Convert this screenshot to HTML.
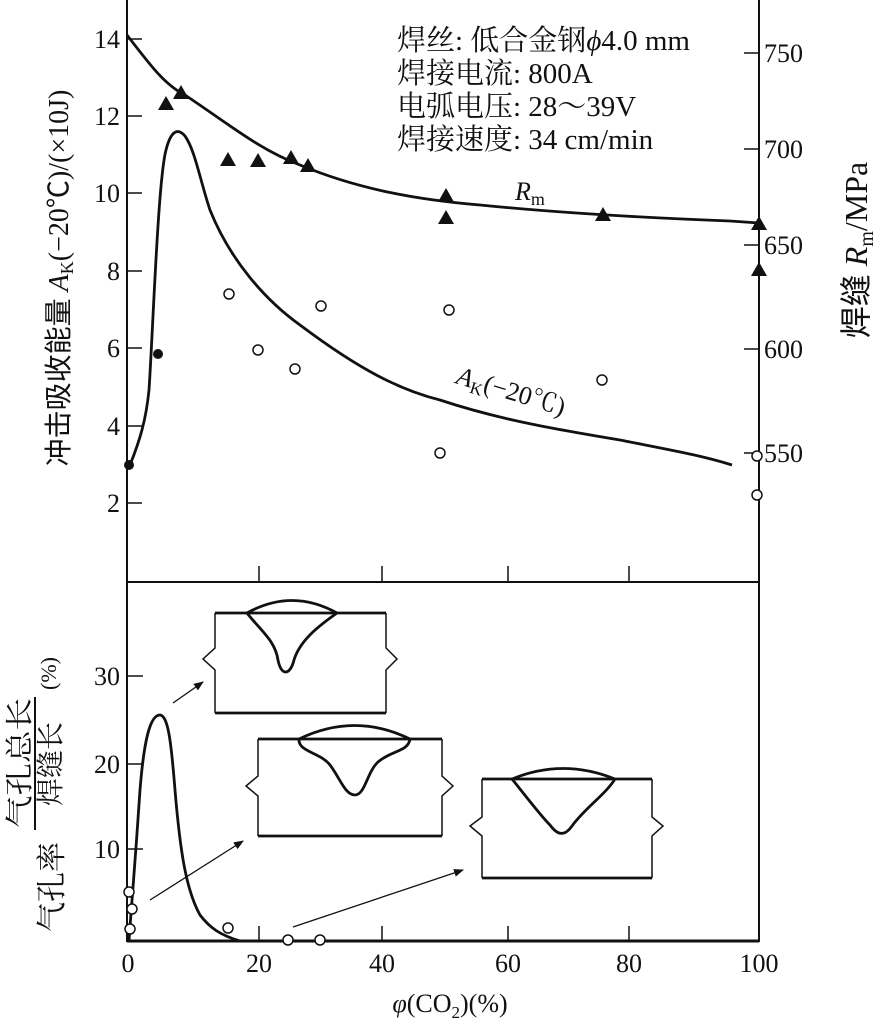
<!DOCTYPE html>
<html><head><meta charset="utf-8"><style>
html,body{margin:0;padding:0;background:#fff;}
svg{display:block;}
text{font-family:"Liberation Serif","Noto Serif CJK SC",serif;fill:#111;}
.cj{font-family:"Liberation Serif","Noto Sans CJK SC",sans-serif;}
</style></head><body>
<svg width="874" height="1027" viewBox="0 0 874 1027" xmlns="http://www.w3.org/2000/svg">
<defs><marker id="ar" markerWidth="10" markerHeight="8" refX="9" refY="4" orient="auto" markerUnits="userSpaceOnUse"><path d="M0,0 L10,4 L0,8 Z" fill="#111"/></marker></defs>
<g stroke="#111" fill="none" stroke-width="2">
<line x1="127" y1="0" x2="127" y2="942"/>
<line x1="759" y1="0" x2="759" y2="942"/>
<line x1="127" y1="582" x2="759" y2="582"/>
<line x1="127" y1="941" x2="759" y2="941" stroke-width="3"/>
</g>
<g stroke="#111" stroke-width="1.5">
<line x1="127" y1="39" x2="142" y2="39"/><line x1="127" y1="116" x2="142" y2="116"/><line x1="127" y1="193" x2="142" y2="193"/><line x1="127" y1="271" x2="142" y2="271"/><line x1="127" y1="348" x2="142" y2="348"/><line x1="127" y1="426" x2="142" y2="426"/><line x1="127" y1="503" x2="142" y2="503"/>
<line x1="744" y1="53" x2="759" y2="53"/><line x1="744" y1="149" x2="759" y2="149"/><line x1="744" y1="245" x2="759" y2="245"/><line x1="744" y1="349" x2="759" y2="349"/><line x1="744" y1="453" x2="759" y2="453"/>
<line x1="259" y1="566" x2="259" y2="582"/><line x1="382" y1="566" x2="382" y2="582"/><line x1="508" y1="566" x2="508" y2="582"/><line x1="629" y1="566" x2="629" y2="582"/>
<line x1="259" y1="926" x2="259" y2="941"/><line x1="382" y1="926" x2="382" y2="941"/><line x1="508" y1="926" x2="508" y2="941"/><line x1="629" y1="926" x2="629" y2="941"/>
<line x1="127" y1="676" x2="143" y2="676"/><line x1="127" y1="764" x2="143" y2="764"/><line x1="127" y1="849" x2="143" y2="849"/>
</g>
<g font-size="26" text-anchor="end">
<text x="120" y="48">14</text><text x="120" y="125">12</text><text x="120" y="202">10</text><text x="120" y="280">8</text><text x="120" y="357">6</text><text x="120" y="435">4</text><text x="120" y="512">2</text>
<text x="120" y="685">30</text><text x="120" y="773">20</text><text x="120" y="858">10</text>
</g>
<g font-size="26">
<text x="764" y="62">750</text><text x="764" y="158">700</text><text x="764" y="254">650</text><text x="764" y="358">600</text><text x="764" y="462">550</text>
</g>
<g font-size="26" text-anchor="middle">
<text x="128" y="972">0</text><text x="259" y="972">20</text><text x="382" y="972">40</text><text x="508" y="972">60</text><text x="629" y="972">80</text><text x="759" y="972">100</text>
</g>
<text x="450" y="1012" font-size="26" text-anchor="middle"><tspan font-style="italic">φ</tspan>(CO<tspan font-size="17" dy="6">2</tspan><tspan dy="-6">)(%)</tspan></text>
<g stroke="#111" fill="none" stroke-width="2.8">
<path d="M127,35 C150,65 165,85 185,95 C230,125 260,150 300,165 C360,190 420,200 480,205 C560,213 650,218 730,221 L759,223"/>
<path d="M130,465 C140,440 146,420 149,390 C153,330 158,180 166,150 C171,130 178,128 185,136 C195,150 200,180 210,210 C230,260 265,300 300,325 C360,370 400,390 440,400 C500,420 560,430 620,440 C670,450 700,455 732,465"/>
<path d="M129,941 C131,910 134,880 140,790 C144,740 150,715 160,715 C168,716 171,740 175,790 C180,850 186,890 200,915 C210,928 220,935 240,941 L759,941"/>
</g>
<g fill="#111">
<path d="M166,96 l8,14 h-16z"/><path d="M181,85 l8,14 h-16z"/><path d="M228,152 l8,14 h-16z"/><path d="M258,153 l8,14 h-16z"/><path d="M291,150 l8,14 h-16z"/><path d="M308,158 l8,14 h-16z"/><path d="M446,188 l8,14 h-16z"/><path d="M446,210 l8,14 h-16z"/><path d="M603,207 l8,14 h-16z"/><path d="M759,216 l8,14 h-16z"/><path d="M759,262 l8,14 h-16z"/>
<circle cx="129" cy="465" r="5"/><circle cx="158" cy="354" r="5"/>
</g>
<g fill="#fff" stroke="#111" stroke-width="1.5">
<circle cx="229" cy="294" r="5"/><circle cx="258" cy="350" r="5"/><circle cx="295" cy="369" r="5"/><circle cx="321" cy="306" r="5"/><circle cx="449" cy="310" r="5"/><circle cx="440" cy="453" r="5"/><circle cx="602" cy="380" r="5"/><circle cx="757" cy="456" r="5"/><circle cx="757" cy="495" r="5"/>
<circle cx="129" cy="892" r="5"/><circle cx="132" cy="909" r="5"/><circle cx="130" cy="929" r="5"/><circle cx="228" cy="928" r="5"/><circle cx="288" cy="940" r="5"/><circle cx="320" cy="940" r="5"/>
</g>
<g font-size="29" class="cj">
<text x="397" y="50">焊丝: 低合金钢<tspan font-style="italic">ϕ</tspan>4.0 mm</text>
<text x="397" y="83">焊接电流: 800A</text>
<text x="397" y="116">电弧电压: 28～39V</text>
<text x="397" y="149">焊接速度: 34 cm/min</text>
</g>
<text x="515" y="200" font-size="26"><tspan font-style="italic">R</tspan><tspan font-size="18" dy="5">m</tspan></text>
<text transform="translate(455,383) rotate(17)" font-size="26"><tspan font-style="italic">A</tspan><tspan font-size="17" dy="5">K</tspan><tspan dy="-5">(−20℃)</tspan></text>
<text transform="translate(68,278) rotate(-90)" font-size="28" text-anchor="middle" class="cj">冲击吸收能量 <tspan font-style="italic">A</tspan><tspan font-size="18" dy="5">K</tspan><tspan dy="-5">(−20℃)/(×10J)</tspan></text>
<text transform="translate(867,250) rotate(-90)" font-size="32" text-anchor="middle" class="cj">焊缝 <tspan font-style="italic">R</tspan><tspan font-size="20" dy="6">m</tspan><tspan dy="-6">/MPa</tspan></text>
<g class="cj" font-size="30">
<text transform="translate(62,932) rotate(-90)">气孔率</text>
<text transform="translate(29,828) rotate(-90)" font-size="28" textLength="130" lengthAdjust="spacingAndGlyphs">气孔总长</text>
<text transform="translate(60,806) rotate(-90)" font-size="28">焊缝长</text>
<text transform="translate(56,690) rotate(-90)" font-size="22">(%)</text>
</g>
<line x1="35" y1="830" x2="35" y2="697" stroke="#111" stroke-width="2"/>
<g stroke="#111" fill="none" stroke-width="2.8">
<path d="M215,613 H386 M215,713 H386" />
<path d="M215,613 V648 L203,659 L215,670 V713 M386,613 V648 L397,659 L386,670 V713" stroke-width="1.5"/>
<path d="M247,613 Q292,588 337,613"/>
<path d="M247,613 C260,630 275,640 278,660 C281,676 290,676 294,660 C300,640 320,625 337,613"/>
<path d="M258,739 H442 M258,836 H442"/>
<path d="M258,739 V776 L246,786 L258,796 V836 M442,739 V776 L453,786 L442,796 V836" stroke-width="1.5"/>
<path d="M299,739 Q355,712 410,739"/>
<path d="M299,739 C298,752 320,752 330,765 C340,778 345,795 355,795 C365,795 367,772 378,762 C392,750 408,752 410,739"/>
<path d="M482,779 H652 M482,878 H652"/>
<path d="M482,779 V817 L470,826 L482,836 V878 M652,779 V817 L663,826 L652,836 V878" stroke-width="1.5"/>
<path d="M512,779 Q563,758 615,779"/>
<path d="M512,779 C525,795 540,815 550,825 C558,836 565,836 572,826 C585,808 605,795 615,779"/>
</g>
<g stroke="#111" stroke-width="1.3" marker-end="url(#ar)">
<line x1="173" y1="703" x2="203" y2="682"/>
<line x1="150" y1="900" x2="243" y2="841"/>
<line x1="293" y1="927" x2="463" y2="870"/>
</g>
</svg>
</body></html>
